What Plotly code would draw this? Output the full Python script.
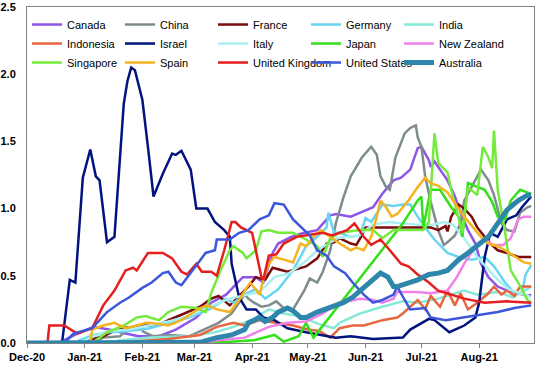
import pandas as pd
import plotly.graph_objects as go

BASE = "2020-12-01"  # day 0 of the x axis; "days" below are days since this date

months = ["2020-12-01", "2021-01-01", "2021-02-01", "2021-03-01", "2021-04-01",
          "2021-05-01", "2021-06-01", "2021-07-01", "2021-08-01"]
month_labels = ["Dec-20", "Jan-21", "Feb-21", "Mar-21", "Apr-21",
                "May-21", "Jun-21", "Jul-21", "Aug-21"]

canada_days = [0, 19, 20, 27, 36, 44, 53, 60, 70, 71, 80, 91, 99, 107, 116, 123, 127, 132, 135, 142, 149, 156, 163, 166, 174, 179, 186, 191, 197, 201, 206, 210, 212, 216, 217, 219, 222, 226, 230, 233, 237, 241, 244, 248, 253, 258, 264, 269, 271]
canada_vals = [0, 0, 0.02, 0.07, 0.12, 0.10, 0.07, 0.05, 0.05, 0.05, 0.10, 0.19, 0.30, 0.36, 0.49, 0.49, 0.45, 0.67, 0.74, 0.79, 0.82, 0.84, 0.95, 0.96, 0.94, 0.97, 1.01, 1.11, 1.21, 1.23, 1.29, 1.45, 1.46, 1.36, 1.31, 1.35, 1.29, 1.21, 1.09, 0.97, 0.84, 0.74, 0.59, 0.49, 0.42, 0.39, 0.37, 0.35, 0.36]

china_days = [0, 35, 41, 50, 53, 59, 63, 68, 76, 87, 95, 103, 110, 114, 117, 119, 122, 126, 130, 134, 138, 143, 149, 152, 156, 159, 163, 166, 170, 174, 180, 185, 188, 190, 193, 195, 198, 203, 206, 209, 210, 212, 214, 217, 221, 224, 226, 230, 233, 235, 239, 244, 248, 251, 255, 258, 262, 265, 269, 271]
china_vals = [0, 0, 0.04, 0.05, 0.09, 0.13, 0.08, 0.05, 0.06, 0.05, 0.10, 0.15, 0.22, 0.30, 0.36, 0.33, 0.30, 0.27, 0.28, 0.31, 0.26, 0.25, 0.39, 0.48, 0.45, 0.53, 0.69, 0.89, 1.08, 1.24, 1.38, 1.46, 1.40, 1.24, 1.16, 1.14, 1.38, 1.56, 1.60, 1.62, 1.53, 1.46, 1.24, 1.05, 0.84, 0.73, 0.75, 0.80, 0.89, 1.06, 1.16, 1.29, 1.21, 1.10, 0.89, 0.84, 0.83, 0.97, 1.01, 1.02]

france_days = [0, 27, 41, 50, 57, 63, 70, 76, 83, 93, 99, 103, 109, 114, 119, 123, 128, 132, 140, 145, 150, 156, 161, 165, 168, 174, 177, 180, 182, 190, 202, 210, 217, 221, 225, 226, 228, 232, 235, 239, 242, 246, 249, 253, 258, 264, 271]
france_vals = [0, 0, 0.05, 0.11, 0.12, 0.13, 0.13, 0.17, 0.21, 0.27, 0.33, 0.35, 0.28, 0.35, 0.42, 0.49, 0.47, 0.56, 0.53, 0.55, 0.57, 0.63, 0.74, 0.75, 0.78, 0.74, 0.73, 0.80, 0.86, 0.86, 0.86, 0.86, 0.86, 0.84, 0.87, 0.83, 0.94, 1.03, 1.00, 0.94, 0.86, 0.79, 0.74, 0.69, 0.67, 0.64, 0.64]

germany_days = [0, 27, 28, 36, 44, 55, 66, 76, 87, 98, 107, 111, 118, 123, 128, 135, 143, 150, 156, 161, 162, 165, 168, 174, 179, 182, 185, 191, 197, 202, 206, 210, 214, 219, 226, 232, 239, 246, 251, 257, 262, 266, 268, 271]
germany_vals = [0, 0, 0.02, 0.06, 0.08, 0.09, 0.11, 0.15, 0.19, 0.25, 0.33, 0.30, 0.37, 0.40, 0.33, 0.40, 0.54, 0.72, 0.79, 0.86, 0.97, 0.82, 0.82, 0.79, 0.80, 0.93, 0.90, 1.03, 1.02, 1.03, 1.03, 0.94, 0.86, 0.77, 0.67, 0.64, 0.62, 0.64, 0.57, 0.45, 0.37, 0.37, 0.51, 0.58]

india_days = [0, 44, 50, 66, 87, 101, 111, 122, 130, 138, 146, 157, 165, 168, 179, 191, 202, 210, 221, 235, 242, 253, 261, 271]
india_vals = [0, 0, 0.02, 0.04, 0.05, 0.08, 0.12, 0.18, 0.25, 0.22, 0.20, 0.14, 0.11, 0.15, 0.22, 0.27, 0.31, 0.30, 0.33, 0.39, 0.36, 0.38, 0.34, 0.42]

indonesia_days = [0, 45, 55, 76, 93, 102, 111, 117, 125, 135, 143, 151, 157, 163, 168, 175, 181, 186, 191, 199, 202, 210, 214, 217, 222, 226, 230, 233, 237, 242, 248, 251, 255, 258, 262, 265, 271]
indonesia_vals = [0, 0, 0.01, 0.03, 0.06, 0.12, 0.15, 0.13, 0.17, 0.15, 0.13, 0.10, 0.09, 0.04, 0.11, 0.13, 0.13, 0.15, 0.17, 0.19, 0.22, 0.32, 0.25, 0.35, 0.27, 0.39, 0.28, 0.37, 0.25, 0.30, 0.37, 0.42, 0.36, 0.39, 0.35, 0.42, 0.42]

israel_days = [0, 18, 19, 23, 26, 30, 34, 37, 39, 43, 47, 52, 54, 56, 58, 60, 62, 65, 67, 68, 73, 78, 80, 83, 88, 91, 97, 101, 106, 109, 110, 114, 118, 123, 127, 133, 140, 150, 166, 174, 186, 202, 206, 216, 219, 227, 235, 241, 243, 246, 249, 253, 258, 263, 266, 271]
israel_vals = [0, 0, 0.02, 0.47, 0.45, 1.23, 1.44, 1.24, 1.21, 0.75, 0.79, 1.78, 1.95, 2.05, 2.03, 1.93, 1.81, 1.46, 1.21, 1.09, 1.26, 1.41, 1.40, 1.43, 1.29, 1.00, 1.00, 0.90, 0.84, 0.79, 0.59, 0.34, 0.25, 0.25, 0.19, 0.17, 0.11, 0.08, 0.04, 0.05, 0.03, 0.04, 0.10, 0.18, 0.17, 0.08, 0.13, 0.19, 0.30, 0.64, 0.82, 0.79, 0.92, 0.95, 1.01, 1.09]

italy_days = [0, 28, 36, 44, 55, 66, 76, 87, 98, 109, 118, 125, 133, 141, 149, 157, 167, 178, 186, 194, 202, 210, 218, 224, 229, 235, 242, 248, 253, 259, 265, 271]
italy_vals = [0, 0, 0.05, 0.09, 0.10, 0.13, 0.16, 0.20, 0.27, 0.33, 0.36, 0.38, 0.49, 0.52, 0.60, 0.70, 0.78, 0.80, 0.88, 0.90, 0.89, 0.88, 0.88, 0.90, 0.88, 0.78, 0.64, 0.55, 0.47, 0.40, 0.37, 0.34]

japan_days = [0, 93, 109, 122, 133, 138, 146, 150, 154, 202, 210, 212, 213, 217, 222, 228, 232, 234, 237, 242, 246, 250, 253, 257, 260, 265, 271]
japan_vals = [0, 0, 0.01, 0.02, 0.06, 0.01, 0.05, 0.15, 0.04, 0.89, 1.06, 1.09, 0.86, 1.14, 1.14, 1.01, 0.94, 0.79, 1.19, 1.16, 1.14, 1.05, 0.94, 0.92, 1.06, 1.14, 1.11]

nz_days = [0, 93, 103, 117, 130, 140, 150, 159, 168, 179, 186, 191, 197, 199, 210, 217, 226, 231, 235, 241, 246, 250, 256, 260, 264, 267, 271]
nz_vals = [0, 0, 0.02, 0.04, 0.12, 0.15, 0.16, 0.22, 0.30, 0.33, 0.32, 0.30, 0.33, 0.38, 0.38, 0.37, 0.39, 0.49, 0.59, 0.72, 0.78, 0.73, 0.73, 0.78, 0.92, 0.94, 0.94]

singapore_days = [0, 35, 43, 52, 59, 64, 66, 71, 76, 83, 91, 96, 99, 104, 109, 111, 116, 118, 123, 126, 130, 135, 143, 150, 156, 159, 163, 168, 179, 186, 191, 197, 202, 213, 216, 219, 221, 226, 228, 232, 234, 237, 242, 245, 248, 250, 251, 253, 257, 260, 264, 269, 271]
singapore_vals = [0, 0, 0.08, 0.13, 0.19, 0.20, 0.19, 0.17, 0.23, 0.27, 0.26, 0.23, 0.37, 0.54, 0.69, 0.72, 0.67, 0.63, 0.69, 0.83, 0.84, 0.82, 0.82, 0.77, 0.72, 0.64, 0.78, 0.82, 0.84, 0.84, 0.78, 0.84, 0.84, 0.84, 0.90, 1.56, 1.34, 1.27, 1.14, 0.94, 0.82, 1.16, 1.10, 1.46, 1.38, 1.30, 1.58, 1.14, 0.82, 0.54, 0.45, 0.32, 0.30]

spain_days = [0, 34, 35, 41, 47, 53, 59, 64, 66, 76, 83, 93, 97, 102, 109, 114, 118, 120, 125, 127, 130, 133, 138, 143, 147, 150, 154, 158, 162, 168, 174, 177, 181, 185, 188, 190, 193, 196, 199, 205, 210, 214, 217, 221, 226, 230, 235, 241, 244, 248, 253, 257, 264, 267, 271]
spain_vals = [0, 0, 0.10, 0.13, 0.15, 0.11, 0.13, 0.15, 0.15, 0.13, 0.17, 0.26, 0.28, 0.25, 0.23, 0.32, 0.41, 0.45, 0.36, 0.47, 0.59, 0.64, 0.62, 0.60, 0.74, 0.72, 0.79, 0.84, 0.80, 0.74, 0.69, 0.71, 0.69, 0.79, 0.94, 1.06, 1.01, 0.94, 0.96, 1.06, 1.16, 1.23, 1.19, 1.17, 1.12, 1.04, 0.94, 0.84, 0.79, 0.74, 0.72, 0.69, 0.63, 0.60, 0.59]

uk_days = [0, 11, 12, 20, 27, 35, 41, 47, 53, 57, 59, 65, 73, 78, 83, 86, 91, 94, 99, 102, 106, 110, 112, 115, 121, 126, 127, 130, 134, 138, 145, 159, 164, 172, 176, 181, 185, 190, 195, 201, 205, 210, 216, 221, 228, 235, 246, 258, 271]
uk_vals = [0, 0, 0.13, 0.13, 0.07, 0.11, 0.28, 0.39, 0.54, 0.56, 0.54, 0.67, 0.67, 0.63, 0.53, 0.51, 0.59, 0.53, 0.53, 0.50, 0.69, 0.90, 0.90, 0.86, 0.82, 0.49, 0.47, 0.65, 0.66, 0.74, 0.79, 0.82, 0.80, 0.84, 0.89, 0.79, 0.73, 0.77, 0.69, 0.59, 0.57, 0.51, 0.45, 0.39, 0.36, 0.33, 0.30, 0.31, 0.30]

us_days = [0, 20, 25, 35, 43, 50, 55, 62, 67, 73, 76, 80, 83, 89, 91, 96, 101, 102, 109, 114, 119, 125, 130, 133, 138, 143, 149, 152, 156, 161, 165, 171, 175, 181, 186, 191, 197, 199, 203, 206, 214, 217, 225, 235, 244, 253, 262, 271]
us_vals = [0, 0, 0.07, 0.11, 0.23, 0.30, 0.34, 0.41, 0.45, 0.52, 0.53, 0.45, 0.43, 0.54, 0.57, 0.67, 0.69, 0.77, 0.77, 0.82, 0.84, 0.92, 0.95, 1.04, 1.03, 0.92, 0.84, 0.80, 0.69, 0.65, 0.57, 0.52, 0.45, 0.36, 0.30, 0.32, 0.36, 0.42, 0.32, 0.25, 0.26, 0.19, 0.17, 0.19, 0.21, 0.23, 0.26, 0.28]

australia_days = [0, 87, 93, 102, 110, 117, 119, 125, 128, 132, 135, 140, 143, 147, 150, 156, 163, 170, 175, 181, 186, 190, 194, 197, 199, 205, 210, 216, 221, 226, 232, 237, 242, 248, 253, 258, 264, 269, 271]
australia_vals = [0, 0, 0.005, 0.04, 0.06, 0.10, 0.15, 0.19, 0.16, 0.19, 0.23, 0.26, 0.24, 0.19, 0.19, 0.23, 0.27, 0.30, 0.34, 0.41, 0.48, 0.52, 0.49, 0.42, 0.42, 0.45, 0.47, 0.51, 0.52, 0.54, 0.62, 0.67, 0.72, 0.79, 0.89, 0.99, 1.06, 1.10, 1.10]

series = [
    ("Canada", canada_days, canada_vals, "#8d55e8", 2.5),
    ("China", china_days, china_vals, "#7f8c8d", 2.5),
    ("France", france_days, france_vals, "#7a0c0c", 2.5),
    ("Germany", germany_days, germany_vals, "#66d6f2", 2.5),
    ("India", india_days, india_vals, "#86e8d6", 2.5),
    ("Indonesia", indonesia_days, indonesia_vals, "#e8663f", 2.5),
    ("Israel", israel_days, israel_vals, "#00137f", 2.5),
    ("Italy", italy_days, italy_vals, "#abeff0", 2.5),
    ("Japan", japan_days, japan_vals, "#33e01a", 2.5),
    ("New Zealand", nz_days, nz_vals, "#f081e8", 2.5),
    ("Singapore", singapore_days, singapore_vals, "#74ea3c", 2.5),
    ("Spain", spain_days, spain_vals, "#f5b322", 2.5),
    ("United Kingdom", uk_days, uk_vals, "#e61e1e", 2.5),
    ("United States", us_days, us_vals, "#3a57dd", 2.5),
    ("Australia", australia_days, australia_vals, "#2e86ab", 5),
]

legend_ids = ["legend", "legend2", "legend3", "legend4", "legend5"]
legend_x = [0.0, 0.1834, 0.3669, 0.5503, 0.7337]

base = pd.Timestamp(BASE)
fig = go.Figure()
for i, (name, days, vals, color, width) in enumerate(series):
    x = base + pd.to_timedelta(days, unit="D")
    fig.add_trace(go.Scatter(x=x, y=vals, mode="lines", name=name,
                             legend=legend_ids[i % 5],
                             line=dict(color=color, width=width)))

tick_font = dict(family="Liberation Sans, Arial, sans-serif", size=11, color="black", weight="bold")
legend_font = dict(family="Liberation Sans, Arial, sans-serif", size=11, color="black")

legends = {}
for lid, lx in zip(legend_ids, legend_x):
    legends[lid] = dict(orientation="v", x=lx, y=0.991, xanchor="left", yanchor="top",
                        traceorder="normal", bgcolor="rgba(0,0,0,0)", borderwidth=0,
                        font=legend_font)

fig.update_layout(
    width=548, height=368,
    margin=dict(l=27, r=14, t=7, b=25, autoexpand=False),
    paper_bgcolor="white", plot_bgcolor="white",
    showlegend=True,
    xaxis=dict(type="date", range=[BASE, "2021-08-30 12:00"],
               tickvals=months, ticktext=month_labels, tickfont=tick_font,
               ticks="outside", ticklen=4, tickcolor="#808080",
               showline=True, linecolor="#808080", linewidth=1, mirror=True,
               showgrid=False, zeroline=False),
    yaxis=dict(range=[0, 2.5], dtick=0.5, tickformat=".1f", tickfont=tick_font,
               ticks="", ticklabelstandoff=8,
               showline=True, linecolor="#808080", linewidth=1, mirror=True,
               showgrid=False, zeroline=False),
    **legends,
)

fig.write_html("out.html", config={"displayModeBar": False},
               post_script="document.body.style.margin='0';")
